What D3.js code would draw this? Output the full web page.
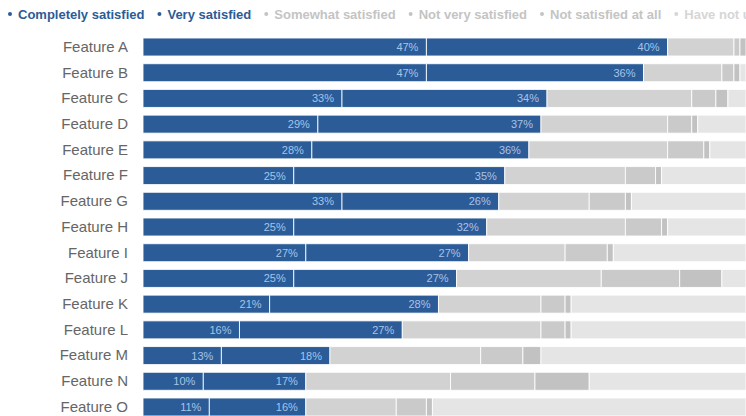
<!DOCTYPE html>
<html>
<head>
<meta charset="utf-8">
<script src="https://cdn.jsdelivr.net/npm/d3@7"></script>
<style>
html,body{margin:0;padding:0;background:#fff;}
svg{display:block;font-family:"Liberation Sans",Arial,sans-serif;}
</style>
</head>
<body>
<svg id="chart" width="746" height="416"></svg>
<script>
const categories = ["Feature A","Feature B","Feature C","Feature D","Feature E","Feature F","Feature G","Feature H","Feature I","Feature J","Feature K","Feature L","Feature M","Feature N","Feature O"];
const seriesNames = ["Completely satisfied","Very satisfied","Somewhat satisfied","Not very satisfied","Not satisfied at all","Have not used"];
const completely = [47,47,33,29,28,25,33,25,27,25,21,16,13,10,11];
const very       = [40,36,34,37,36,35,26,32,27,27,28,27,18,17,16];
const somewhat   = [11,13,24,21,23,20,15,23,16,24,17,23,25,24,15];
const notVery    = [1,2,4,4,6,5,6,6,7,13,4,4,7,14,5];
const notAtAll   = [1,1,2,1,1,1,1,1,1,7,1,1,3,9,1];
const notUsed    = [0,1,3,8,6,14,19,13,22,4,29,29,34,26,52];
const colors = ["#2b5c97","#2b5c97","#d2d2d2","#cacaca","#c2c2c2","#e5e5e5"];
const legendText = ["#2b5c97","#2b5c97","#c4c4c4","#c4c4c4","#c4c4c4","#d6d6d6"];

const series = [completely, very, somewhat, notVery, notAtAll, notUsed];
const rows = categories.map((c,i)=>{
  const o={cat:c};
  seriesNames.forEach((s,j)=>o[s]=series[j][i]);
  return o;
});
const stacked = d3.stack().keys(seriesNames)(rows);

const svg = d3.select("#chart");
const x = d3.scaleLinear().domain([0,100]).range([143,746]);
const y = d3.scaleBand().domain(categories).range([34.15,419.85]).paddingInner(0.3).paddingOuter(0.15);

const layers = svg.append("g").selectAll("g").data(stacked).join("g")
  .attr("fill",(d,i)=>colors[i]);
layers.selectAll("rect").data(d=>d).join("rect")
  .attr("x",d=>x(d[0]))
  .attr("y",d=>y(d.data.cat))
  .attr("width",d=>Math.max(0,x(d[1])-x(d[0])))
  .attr("height",y.bandwidth())
  .attr("stroke","#ffffff")
  .attr("stroke-opacity",0.85)
  .attr("stroke-width",1);

// labels on blue segments
stacked.slice(0,2).forEach(layer=>{
  svg.append("g").selectAll("text").data(layer).join("text")
    .attr("x",d=>x(d[1])-8)
    .attr("y",d=>y(d.data.cat)+y.bandwidth()/2)
    .attr("dy","0.36em")
    .attr("text-anchor","end")
    .attr("font-size",11)
    .attr("fill","#a7c3e8")
    .text(d=>(d[1]-d[0])+"%");
});

// category axis
const yAxis = svg.append("g").attr("transform","translate(128,0)")
  .call(d3.axisLeft(y).tickSize(0).tickPadding(0));
yAxis.select(".domain").remove();
yAxis.selectAll("text").attr("font-size",15).attr("fill","#666")
  .attr("font-family","'Liberation Sans',Arial,sans-serif");

// legend
const leg = svg.append("g");
let lx = 10;
seriesNames.forEach((s,i)=>{
  const g = leg.append("g");
  g.append("circle").attr("cx",lx).attr("cy",14).attr("r",2).attr("fill",legendText[i]);
  const t = g.append("text").attr("x",lx+8).attr("y",14).attr("dy","0.35em")
    .attr("font-size",13).attr("font-weight","bold").attr("fill",legendText[i]).text(s);
  lx = lx + 8 + t.node().getComputedTextLength() + 15;
});
</script>
</body>
</html>
